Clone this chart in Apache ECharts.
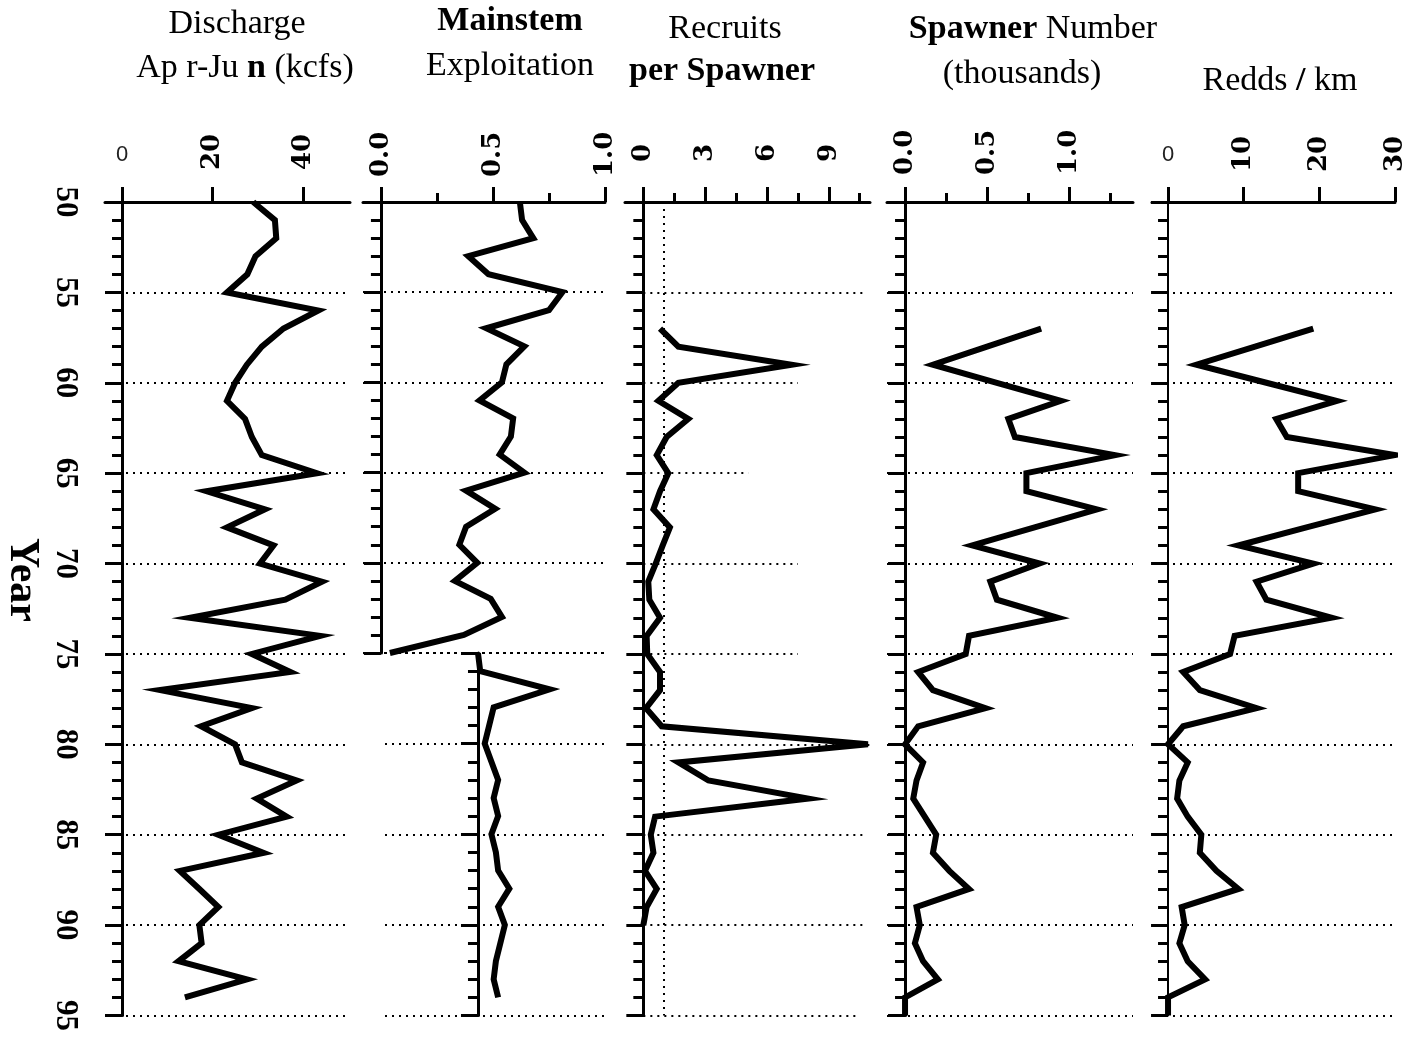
<!DOCTYPE html>
<html>
<head>
<meta charset="utf-8">
<script src="https://cdn.jsdelivr.net/npm/echarts@6/dist/echarts.min.js"></script>
<style>
html,body{margin:0;padding:0;background:#fff;}
#c{width:1415px;height:1039px;}
</style>
</head>
<body>
<div id="c"></div>
<script>
// ---------------- DATA ----------------
// Discharge Apr-Jun (kcfs), 1950-1994
const dischargeStart = 1950;
const discharge = [29, 33.8, 34.1, 29.5, 27.7, 23.2, 43.4, 35.7, 30.9, 27.6,
                   25, 23.2, 27.2, 28.7, 30.9, 43.1, 18.7, 31.6, 23.2, 33.5,
                   30.5, 44.2, 36.1, 15, 43.8, 28.7, 37.2, 8.4, 28.7, 17.5,
                   25, 26.5, 38.6, 29.8, 36.4, 21.3, 31.3, 12.8, 17.1, 21.3,
                   17.1, 17.6, 12.5, 27.6, 13.9];
// Mainstem exploitation, upper segment 1950-1975
const exploitUpperStart = 1950;
const exploitUpper = [0.62, 0.63, 0.68, 0.39, 0.48, 0.81, 0.75, 0.47, 0.64, 0.56,
                      0.54, 0.44, 0.59, 0.58, 0.53, 0.64, 0.38, 0.51, 0.38, 0.35,
                      0.43, 0.33, 0.49, 0.54, 0.37, 0.04];
// Mainstem exploitation, lower (shifted) segment 1975-1994
const exploitLowerStart = 1975;
const exploitLower = [0.0, 0.01, 0.32, 0.07, 0.05, 0.03, 0.06, 0.09, 0.07, 0.09,
                      0.06, 0.08, 0.09, 0.14, 0.09, 0.12, 0.10, 0.08, 0.07, 0.09];
// Recruits per spawner, 1957-1990
const rpsStart = 1957;
const rps = [0.81, 1.70, 7.2, 1.70, 0.73, 2.18, 1.13, 0.65, 1.21, 0.81,
             0.49, 1.29, 0.94, 0.60, 0.24, 0.29, 0.81, 0.16, 0.19, 0.81,
             0.81, 0.13, 0.89, 10.9, 1.70, 3.16, 8.0, 0.57, 0.36, 0.49,
             0.08, 0.65, 0.16, 0.0];
const rpsReplacement = 1;
const rpsGridYears = [1955, 1960, 1965, 1970, 1975, 1980, 1985, 1990, 1995];
const rpsGridEnds  = [10.8, 7.5, 5.1, 7.5, 7.5, 11.0, 10.7, 10.7, 10.5];
// Spawner number (thousands), 1957-1995
const spawnerStart = 1957;
const spawners = [0.83, 0.50, 0.17, 0.56, 0.95, 0.63, 0.67, 1.28, 0.74, 0.74,
                  1.17, 0.79, 0.41, 0.82, 0.52, 0.56, 0.93, 0.39, 0.37, 0.08,
                  0.17, 0.49, 0.08, 0.0, 0.11, 0.07, 0.05, 0.12, 0.19, 0.17,
                  0.27, 0.39, 0.07, 0.09, 0.06, 0.11, 0.20, 0.0, 0.0];
// Redds per km, 1957-1995
const reddsStart = 1957;
const redds = [19.2, 11.5, 3.75, 13.0, 22.3, 14.3, 15.7, 30.0, 17.2, 17.2,
               27.4, 18.3, 9.3, 19.2, 11.7, 13.0, 21.6, 8.8, 8.2, 2.0,
               4.2, 11.7, 2.0, 0.0, 2.6, 1.5, 1.2, 2.6, 4.4, 4.2,
               6.4, 9.3, 1.8, 2.2, 1.5, 2.6, 4.9, 0.0, 0.0];

// Tick values / labels
const dischargeTicks = [0, 20, 40];
const exploitTicks = [0, 0.5, 1.0];
const exploitMinor = [0.25, 0.75];
const rpsTicks = [0, 3, 6, 9];
const rpsMinor = [1.5, 4.5, 7.5, 10.5];
const spawnerTicks = [0, 0.5, 1.0];
const spawnerMinor = [0.25, 0.75, 1.25];
const reddsTicks = [0, 10, 20, 30];

// ---------------- CHART ----------------
const BLACK = '#000';
const SERIF = 'Liberation Serif';
const chart = echarts.init(document.getElementById('c'), null, {renderer: 'canvas'});

function pairs(vals, start) { return vals.map((v, i) => [v, (start + i) - 1900]); }

const grids = [
  {left: 105, width: 245, top: 202, height: 813.5},   // 0 discharge
  {left: 363, width: 242, top: 202, height: 451},     // 1 exploitation upper
  {left: 385, width: 220, top: 653, height: 362.5},   // 2 exploitation lower
  {left: 625, width: 245, top: 202, height: 813.5},   // 3 recruits/spawner
  {left: 887, width: 246, top: 202, height: 813.5},   // 4 spawners
  {left: 1152, width: 243, top: 202, height: 813.5}   // 5 redds
].map(g => Object.assign({containLabel: false, outerBoundsMode: 'none', show: false}, g));

const xAxes = [];
function mainX(g, min, max, ticks, labels, fmt, margin) {
  xAxes.push({
    gridIndex: g, type: 'value', position: 'top', min: min, max: max,
    axisLine: {show: true, onZero: false, lineStyle: {color: BLACK, width: 3}},
    axisTick: {show: true, customValues: ticks, length: 15, lineStyle: {color: BLACK, width: 3}},
    axisLabel: {show: true, customValues: labels, rotate: -90, margin: margin, formatter: fmt,
                fontFamily: 'DejaVu Serif', fontWeight: 'bold', fontSize: 26, color: BLACK},
    splitLine: {show: false}
  });
  return xAxes.length - 1;
}
function minorX(g, min, max, vals) {
  xAxes.push({
    gridIndex: g, type: 'value', position: 'top', min: min, max: max,
    axisLine: {show: false, onZero: false},
    axisTick: {show: true, customValues: vals, length: 9, lineStyle: {color: BLACK, width: 3}},
    axisLabel: {show: false}, splitLine: {show: false}
  });
}
function zeroX(g, min, max, margin) {
  xAxes.push({
    gridIndex: g, type: 'value', position: 'top', min: min, max: max,
    axisLine: {show: false, onZero: false}, axisTick: {show: false},
    axisLabel: {show: true, customValues: [0], rotate: 0, margin: margin,
                fontFamily: 'Liberation Sans', fontSize: 22, color: '#222'},
    splitLine: {show: false}
  });
}
function hiddenX(g, min, max) {
  xAxes.push({gridIndex: g, type: 'value', position: 'top', min: min, max: max, show: false});
  return xAxes.length - 1;
}

const yAxes = [];
function yearY(g, min, max, showLabels, split, lw) {
  yAxes.push({
    gridIndex: g, type: 'value', inverse: true, min: min, max: max, interval: 5,
    axisLine: {show: true, onZero: true, lineStyle: {color: BLACK, width: lw || 3}},
    axisTick: {show: true, length: 17, lineStyle: {color: BLACK, width: 3}},
    minorTick: {show: true, splitNumber: 5, length: 10, lineStyle: {color: BLACK, width: 3}},
    axisLabel: {show: showLabels, rotate: -90, margin: 24, fontFamily: SERIF, fontWeight: 'bold',
                fontSize: 31, color: BLACK, formatter: v => String(v)},
    splitLine: {show: split, lineStyle: {color: BLACK, width: 2, type: [2, 5]}},
    minorSplitLine: {show: false}
  });
  return yAxes.length - 1;
}

const fmt1 = v => v.toFixed(1);
const fmt0 = v => String(v);

// panel 1
const x0 = mainX(0, -3.76, 50.4, dischargeTicks, dischargeTicks.filter(v => v !== 0), fmt0, 32);
zeroX(0, -3.76, 50.4, 36);
const y0 = yearY(0, 50, 95, true, true);
// panel 2 upper
const x1 = mainX(1, -0.08, 1.0, exploitTicks, exploitTicks, fmt1, 25);
minorX(1, -0.08, 1.0, exploitMinor);
const y1 = yearY(1, 50, 75, false, true);
// panel 2 lower
const x2 = hiddenX(2, -0.415, 0.567);
const y2 = yearY(2, 75, 95, false, true);
// panel 3
const x3 = mainX(3, -0.89, 11.0, rpsTicks, rpsTicks, fmt0, 40);
minorX(3, -0.89, 11.0, rpsMinor);
const y3 = yearY(3, 50, 95, false, false);
// panel 4
const x4 = mainX(4, -0.11, 1.39, spawnerTicks, spawnerTicks, fmt1, 27);
minorX(4, -0.11, 1.39, spawnerMinor);
const y4 = yearY(4, 50, 95, false, true);
// panel 5
const x5 = mainX(5, -2.12, 30, reddsTicks, reddsTicks.filter(v => v !== 0), fmt0, 30);
zeroX(5, -2.12, 30, 36);
const y5 = yearY(5, 50, 95, false, true, 2);

const lineStyle = {color: BLACK, width: 6, join: 'miter', miterLimit: 10};
function lineSeries(xi, yi, data, extra) {
  return Object.assign({
    type: 'line', xAxisIndex: xi, yAxisIndex: yi, data: data,
    symbol: 'none', showSymbol: false, lineStyle: lineStyle, silent: true,
    animation: false, clip: true, z: 5
  }, extra || {});
}

const dotted = {color: BLACK, width: 2, type: [2, 5]};
const rpsMarks = [{xAxis: rpsReplacement}].concat(
  rpsGridYears.map((yr, i) => [{coord: [0, yr - 1900]}, {coord: [rpsGridEnds[i], yr - 1900]}])
);

const series = [
  lineSeries(x0, y0, pairs(discharge, dischargeStart)),
  lineSeries(x1, y1, pairs(exploitUpper, exploitUpperStart)),
  lineSeries(x2, y2, pairs(exploitLower, exploitLowerStart)),
  lineSeries(x3, y3, pairs(rps, rpsStart), {
    markLine: {silent: true, symbol: ['none', 'none'], label: {show: false},
               lineStyle: dotted, animation: false, data: rpsMarks}
  }),
  lineSeries(x4, y4, pairs(spawners, spawnerStart)),
  lineSeries(x5, y5, pairs(redds, reddsStart))
];

function title(x, y, text, opts) {
  return {
    type: 'text', x: x, y: y, silent: true,
    style: Object.assign({text: text, fontFamily: SERIF, fontSize: 34, fill: BLACK,
                          align: 'center', verticalAlign: 'middle'}, opts || {})
  };
}
const boldRich = {b: {fontFamily: SERIF, fontSize: 34, fontWeight: 'bold', fill: BLACK}};

const option = {
  animation: false,
  backgroundColor: '#fff',
  grid: grids,
  xAxis: xAxes,
  yAxis: yAxes,
  series: series,
  graphic: [
    title(237, 24.5, 'Discharge'),
    title(245, 68.5, 'Ap r-Ju {b|n} (kcfs)', {rich: boldRich}),
    title(510, 21.5, 'Mainstem', {fontWeight: 'bold'}),
    title(510, 66.5, 'Exploitation'),
    title(725, 29.5, 'Recruits'),
    title(722, 71.5, 'per Spawner', {fontWeight: 'bold'}),
    title(1033, 29.5, '{b|Spawner} Number', {rich: boldRich}),
    title(1022, 74.5, '(thousands)'),
    title(1280, 81.5, 'Redds {b|/} km', {rich: boldRich}),
    {type: 'text', x: 22, y: 580, rotation: -Math.PI / 2, silent: true,
     style: {text: 'Year', fontFamily: SERIF, fontWeight: 'bold', fontSize: 42, fill: BLACK,
             align: 'center', verticalAlign: 'middle'}}
  ]
};
chart.setOption(option);
</script>
</body>
</html>
